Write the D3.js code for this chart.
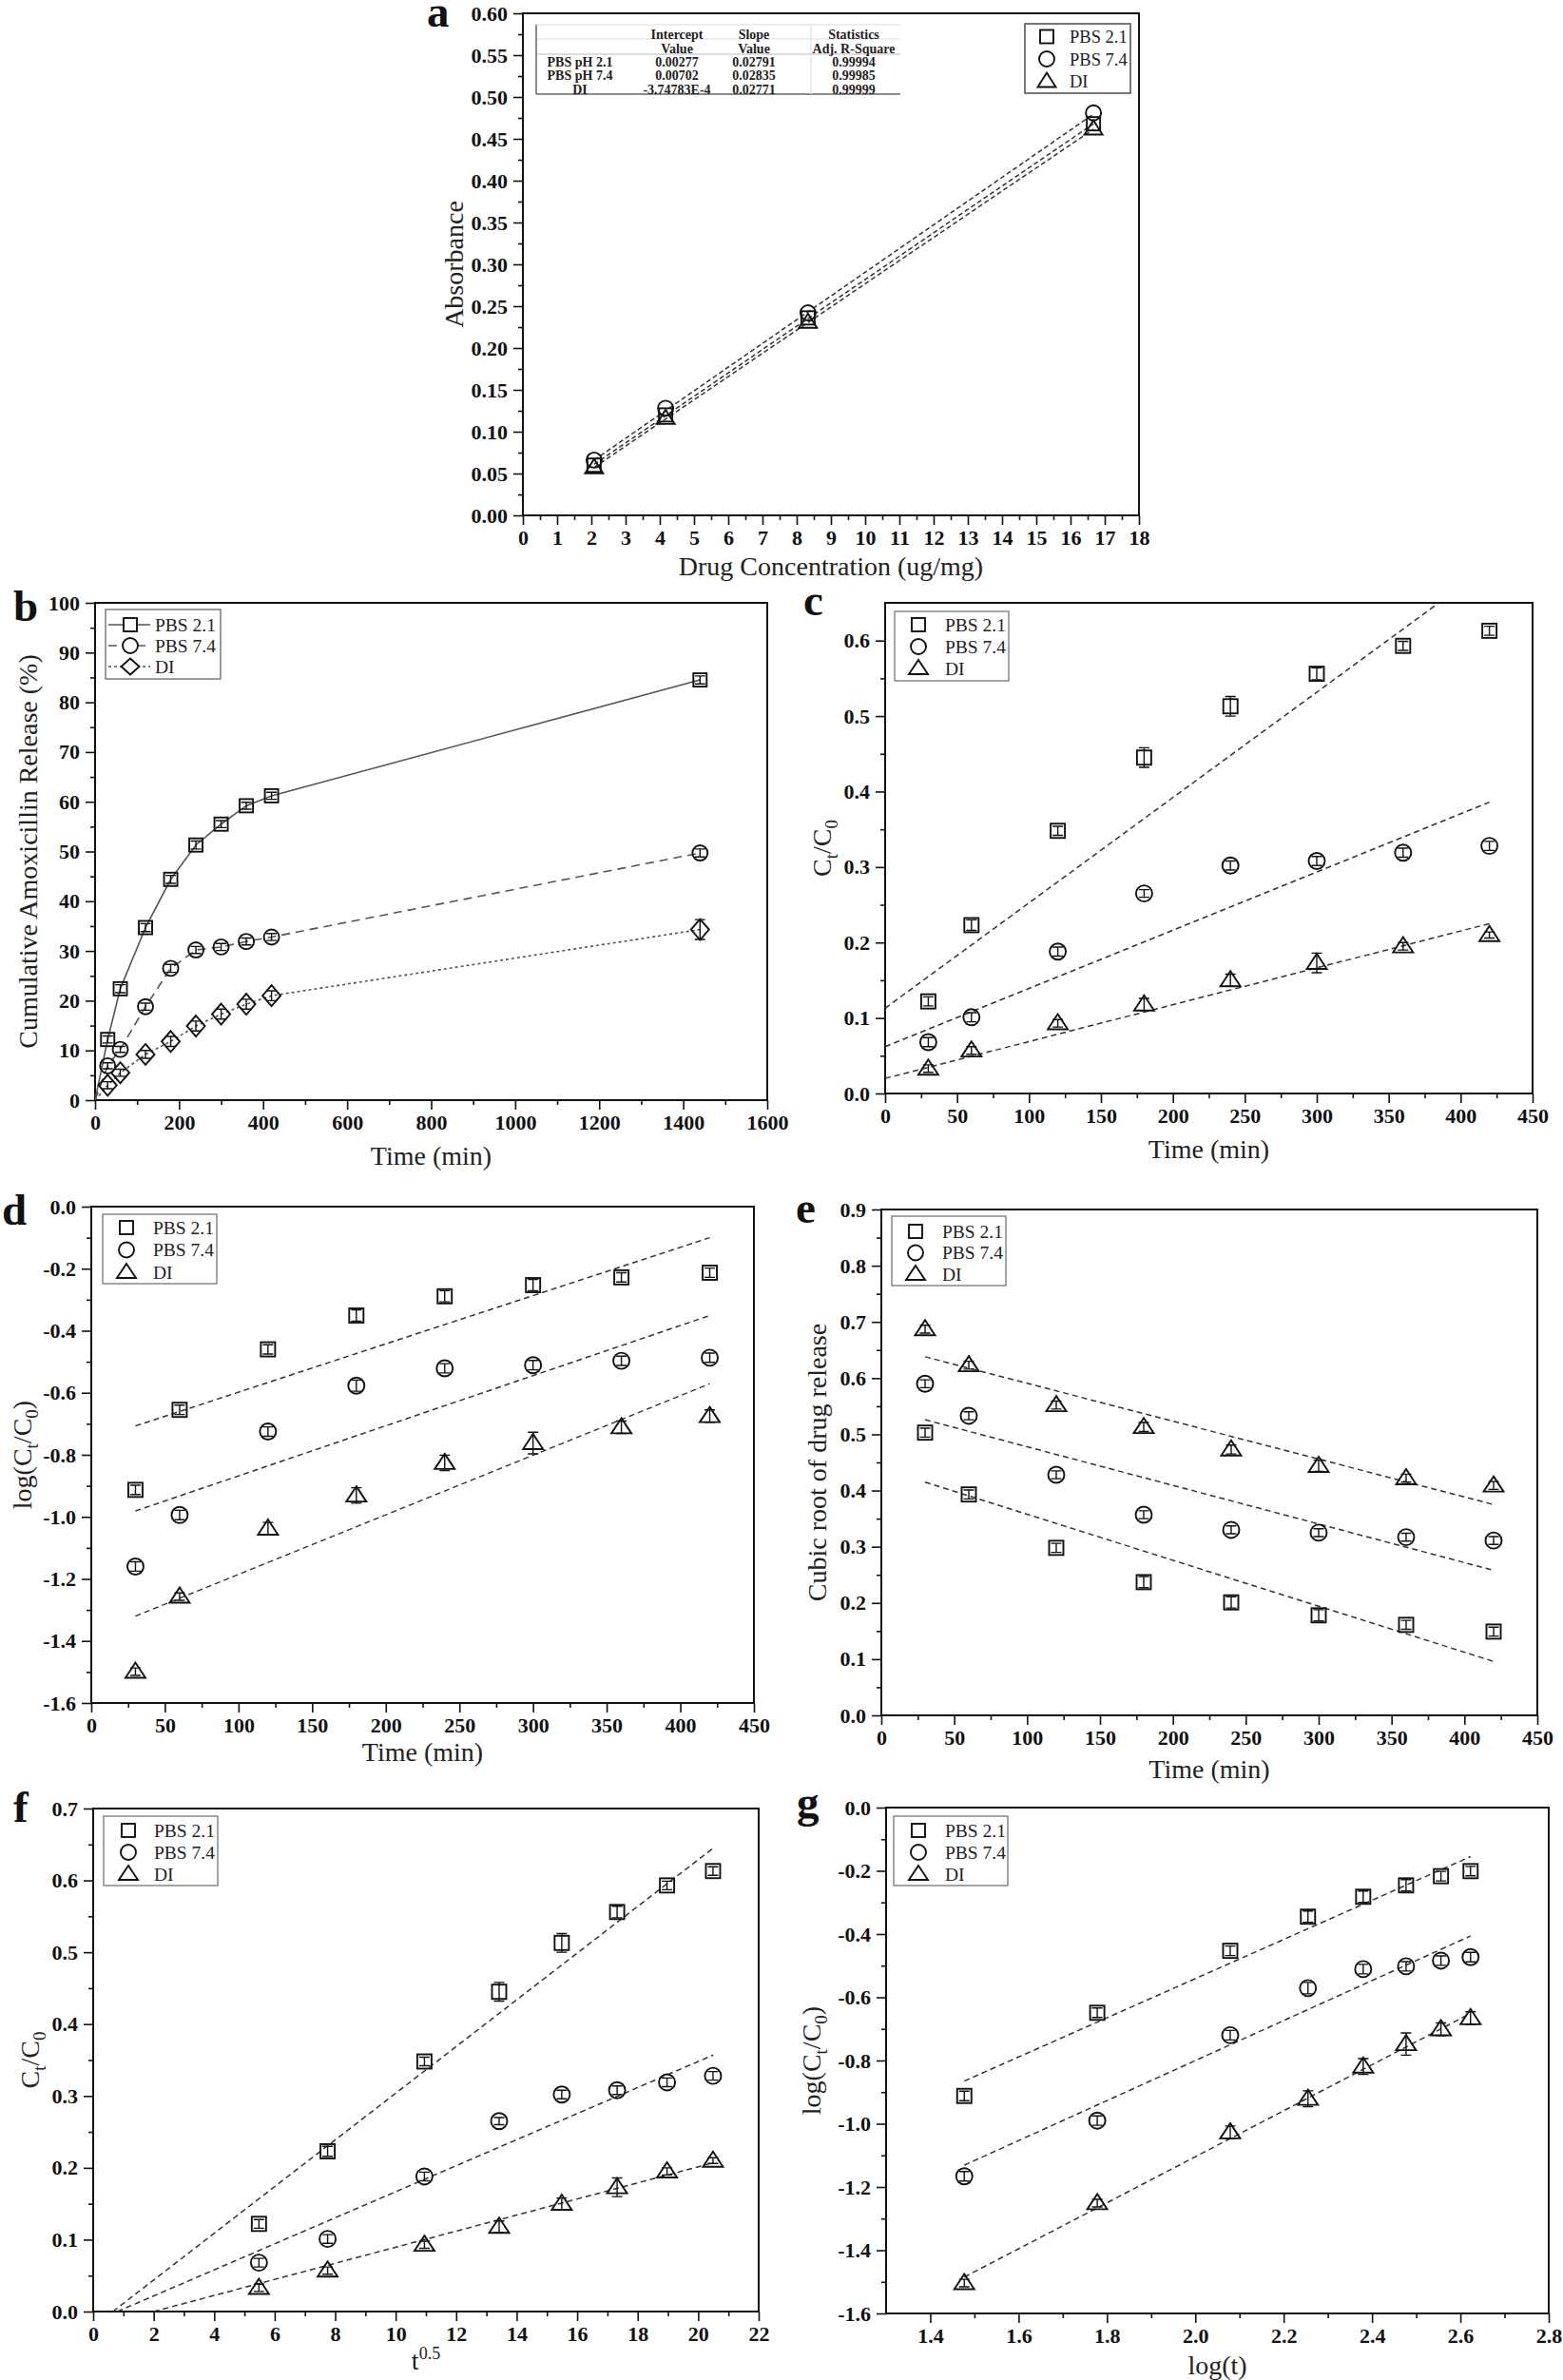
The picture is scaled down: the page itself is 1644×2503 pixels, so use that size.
<!DOCTYPE html>
<html><head><meta charset="utf-8">
<script src="https://cdn.jsdelivr.net/npm/d3@7"></script>
<style>body{margin:0;background:#fff} svg text{font-family:"Liberation Serif","Times New Roman",serif}</style>
</head><body><script>
// ---------------- DATA ----------------
const seriesNames = ["PBS 2.1", "PBS 7.4", "DI"];

// Panel a : calibration
const aConc = [2.08, 4.17, 8.33, 16.67];
const aPBS21 = [0.060, 0.120, 0.236, 0.468];
const aPBS74 = [0.066, 0.128, 0.242, 0.481];
const aDI = [0.057, 0.116, 0.231, 0.462];
const aIntercept = [0.00277, 0.00702, -3.74783e-4];
const aSlope = [0.02791, 0.02835, 0.02771];
const aRowLabels = ["PBS pH 2.1", "PBS pH 7.4", "DI"];
const aInterceptText = ["0.00277", "0.00702", "-3.74783E-4"];
const aSlopeText = ["0.02791", "0.02835", "0.02771"];
const aR2Text = ["0.99994", "0.99985", "0.99999"];
const aXTicks = [0,1,2,3,4,5,6,7,8,9,10,11,12,13,14,15,16,17,18];
const aYTicks = [0,0.05,0.10,0.15,0.20,0.25,0.30,0.35,0.40,0.45,0.50,0.55,0.60];

// Panel b : cumulative release
const bTime = [0, 30, 60, 120, 180, 240, 300, 360, 420, 1440];
const bPBS21 = [0, 12.2, 22.4, 34.7, 44.4, 51.3, 55.5, 59.2, 61.2, 84.5];
const bPBS74 = [0, 6.9, 10.2, 18.8, 26.5, 30.2, 30.8, 31.9, 32.8, 49.7];
const bDI = [0, 3.0, 5.5, 9.2, 11.8, 14.9, 17.3, 19.3, 21.0, 34.3];
const bErr21 = [0, 0.7, 0.8, 0.8, 0.8, 0.8, 0.7, 0.7, 0.7, 0.8];
const bErr74 = [0, 0.6, 0.6, 0.7, 0.8, 0.7, 0.7, 0.7, 0.7, 0.8];
const bErrDI = [0, 0.7, 0.7, 0.8, 1.0, 1.0, 1.0, 1.0, 1.0, 2.0];
const bXTicks = [0,200,400,600,800,1000,1200,1400,1600];
const bYTicks = [0,10,20,30,40,50,60,70,80,90,100];

// Panel c : zero order
const kTime = [30, 60, 120, 180, 240, 300, 360, 420];
const cPBS21 = [0.122, 0.223, 0.348, 0.445, 0.513, 0.556, 0.593, 0.613];
const cPBS74 = [0.068, 0.101, 0.188, 0.265, 0.302, 0.308, 0.319, 0.328];
const cDI = [0.033, 0.057, 0.093, 0.118, 0.150, 0.173, 0.195, 0.210];
const cErr21 = [0.006, 0.007, 0.006, 0.013, 0.013, 0.008, 0.006, 0.006];
const cErr74 = [0.006, 0.006, 0.006, 0.005, 0.006, 0.006, 0.006, 0.006];
const cErrDI = [0.005, 0.005, 0.005, 0.008, 0.008, 0.013, 0.005, 0.004];
const cFitX = [0, 420];
const cFit21 = [0.113, 0.699];
const cFit74 = [0.062, 0.386];
const cFitDI = [0.020, 0.225];
const kXTicks = [0,50,100,150,200,250,300,350,400,450];
const cYTicks = [0,0.1,0.2,0.3,0.4,0.5,0.6];

// Panel d : first order
const dPBS21 = [-0.913, -0.655, -0.460, -0.351, -0.289, -0.253, -0.228, -0.213];
const dPBS74 = [-1.160, -0.994, -0.725, -0.577, -0.521, -0.511, -0.497, -0.487];
const dDI = [-1.499, -1.257, -1.038, -0.931, -0.826, -0.762, -0.711, -0.675];
const dErr21 = [0.015, 0.015, 0.015, 0.018, 0.018, 0.018, 0.015, 0.015];
const dErr74 = [0.015, 0.015, 0.015, 0.018, 0.015, 0.015, 0.015, 0.015];
const dErrDI = [0.012, 0.012, 0.020, 0.025, 0.025, 0.035, 0.020, 0.020];
const dFitX = [30, 420];
const dFit21 = [-0.707, -0.100];
const dFit74 = [-0.981, -0.351];
const dFitDI = [-1.320, -0.571];
const dYTicks = [-1.6,-1.4,-1.2,-1.0,-0.8,-0.6,-0.4,-0.2,0.0];

// Panel e : Hixson-Crowell
const ePBS21 = [0.503, 0.393, 0.298, 0.237, 0.201, 0.178, 0.161, 0.149];
const ePBS74 = [0.590, 0.533, 0.428, 0.357, 0.330, 0.325, 0.317, 0.311];
const eDI = [0.687, 0.623, 0.552, 0.513, 0.473, 0.444, 0.422, 0.409];
const eErr21 = [0.008, 0.008, 0.008, 0.010, 0.010, 0.010, 0.008, 0.008];
const eErr74 = [0.007, 0.007, 0.007, 0.007, 0.007, 0.007, 0.007, 0.007];
const eErrDI = [0.007, 0.007, 0.007, 0.008, 0.008, 0.010, 0.007, 0.007];
const eFitX = [30, 420];
const eFit21 = [0.415, 0.096];
const eFit74 = [0.526, 0.258];
const eFitDI = [0.638, 0.375];
const eYTicks = [0,0.1,0.2,0.3,0.4,0.5,0.6,0.7,0.8,0.9];

// Panel f : Higuchi
const fSqrtT = [5.48, 7.75, 10.95, 13.42, 15.49, 17.32, 18.97, 20.49];
const fPBS21 = [0.122, 0.223, 0.348, 0.445, 0.513, 0.556, 0.593, 0.613];
const fPBS74 = [0.068, 0.101, 0.188, 0.265, 0.302, 0.308, 0.319, 0.328];
const fDI = [0.033, 0.057, 0.093, 0.118, 0.150, 0.173, 0.195, 0.210];
const fFit21 = [[0.65, 0], [20.5, 0.645]];
const fFit74 = [[0.8, 0], [20.5, 0.357]];
const fFitDI = [[2.0, 0], [20.5, 0.207]];
const fXTicks = [0,2,4,6,8,10,12,14,16,18,20,22];
const fYTicks = [0,0.1,0.2,0.3,0.4,0.5,0.6,0.7];

// Panel g : Korsmeyer-Peppas
const gLogT = [1.477, 1.778, 2.079, 2.255, 2.380, 2.477, 2.556, 2.623];
const gPBS21 = [-0.912, -0.649, -0.453, -0.345, -0.282, -0.246, -0.217, -0.201];
const gPBS74 = [-1.166, -0.990, -0.720, -0.571, -0.511, -0.502, -0.484, -0.473];
const gDI = [-1.504, -1.251, -1.027, -0.921, -0.819, -0.748, -0.701, -0.666];
const gFitX = [1.477, 2.623];
const gFit21 = [-0.865, -0.155];
const gFit74 = [-1.131, -0.406];
const gFitDI = [-1.485, -0.651];
const gXTicks = [1.4,1.6,1.8,2.0,2.2,2.4,2.6,2.8];
const gYTicks = [-1.6,-1.4,-1.2,-1.0,-0.8,-0.6,-0.4,-0.2,0.0];

// ---------------- DRAWING ----------------
const svg = d3.select("body").append("svg").attr("width", 1644).attr("height", 2503);
svg.append("rect").attr("width", 1644).attr("height", 2503).attr("fill", "#fff");

const TICK_FS = 22, TITLE_FS = 28;
const hy = f => d => f(d).replace("\u2212", "-");
function mids(t) { const m = []; for (let i = 0; i < t.length - 1; i++) m.push((t[i] + t[i + 1]) / 2); return m; }

let clipN = 0;
function panel(c) {
  const g = svg.append("g");
  const x = d3.scaleLinear().domain(c.xDomain).range([c.left, c.right]);
  const y = d3.scaleLinear().domain(c.yDomain).range([c.bottom, c.top]);
  const id = "clip" + (clipN++);
  svg.append("clipPath").attr("id", id).append("rect")
    .attr("x", c.left).attr("y", c.top).attr("width", c.right - c.left).attr("height", c.bottom - c.top);
  const styleAxis = s => {
    s.select(".domain").remove();
    s.selectAll(".tick line").attr("stroke", "#111").attr("stroke-width", 1.6);
    s.selectAll(".tick text").attr("font-family", '"Liberation Serif","Times New Roman",serif')
      .attr("font-weight", "bold").attr("font-size", TICK_FS).attr("fill", "#111");
  };
  g.append("g").attr("transform", `translate(0,${c.bottom})`)
    .call(d3.axisBottom(x).tickValues(mids(c.xTicks).filter(v => v > c.xDomain[0] && v < c.xDomain[1])).tickSize(5).tickFormat("")).call(styleAxis);
  g.append("g").attr("transform", `translate(0,${c.bottom})`)
    .call(d3.axisBottom(x).tickValues(c.xTicks).tickSize(10).tickPadding(5).tickFormat(c.xFmt)).call(styleAxis);
  g.append("g").attr("transform", `translate(${c.left},0)`)
    .call(d3.axisLeft(y).tickValues(mids(c.yTicks)).tickSize(5).tickFormat("")).call(styleAxis);
  g.append("g").attr("transform", `translate(${c.left},0)`)
    .call(d3.axisLeft(y).tickValues(c.yTicks).tickSize(10).tickPadding(6).tickFormat(c.yFmt)).call(styleAxis);
  g.append("rect").attr("x", c.left).attr("y", c.top).attr("width", c.right - c.left).attr("height", c.bottom - c.top)
    .attr("fill", "none").attr("stroke", "#111").attr("stroke-width", 2);
  // panel letter
  svg.append("text").attr("x", c.letterX).attr("y", c.letterY).attr("font-size", 47).attr("font-weight", "bold")
    .attr("fill", "#111").text(c.letter);
  // x title
  const xt = svg.append("text").attr("x", (c.left + c.right) / 2).attr("y", c.xTitleY)
    .attr("text-anchor", "middle").attr("font-size", TITLE_FS).attr("fill", "#222");
  c.xTitle(xt);
  const yt = svg.append("text").attr("transform", `translate(${c.yTitleX},${(c.top + c.bottom) / 2}) rotate(-90)`)
    .attr("text-anchor", "middle").attr("font-size", TITLE_FS).attr("fill", "#222");
  c.yTitle(yt);
  const plot = g.append("g").attr("clip-path", `url(#${id})`);
  return { g, x, y, plot, c };
}

function marker(sel, shape, cx, cy, sz) {
  const st = s => s.attr("fill", "none").attr("stroke", "#111").attr("stroke-width", 1.9);
  if (shape === "square") {
    st(sel.append("rect").attr("x", cx - sz.sq / 2).attr("y", cy - sz.sq / 2).attr("width", sz.sq).attr("height", sz.sq));
  } else if (shape === "circle") {
    st(sel.append("circle").attr("cx", cx).attr("cy", cy).attr("r", sz.r));
  } else if (shape === "triangle") {
    const w = sz.tw, h = sz.th;
    st(sel.append("path").attr("d", `M${cx},${cy - h * 0.6}L${cx + w / 2},${cy + h * 0.4}L${cx - w / 2},${cy + h * 0.4}Z`));
  } else if (shape === "diamond") {
    const w = sz.dw, h = sz.dh;
    st(sel.append("path").attr("d", `M${cx},${cy - h / 2}L${cx + w / 2},${cy}L${cx},${cy + h / 2}L${cx - w / 2},${cy}Z`));
  }
}
function ebar(sel, cx, y1, y2, cw) {
  const p = `M${cx},${y1}V${y2}M${cx - cw / 2},${y1}H${cx + cw / 2}M${cx - cw / 2},${y2}H${cx + cw / 2}`;
  sel.append("path").attr("d", p).attr("stroke", "#111").attr("stroke-width", 1.4).attr("fill", "none");
}
function scatter(P, xs, ys, errs, shape, sz) {
  const gg = P.g.append("g");
  xs.forEach((xv, i) => {
    const cx = P.x(xv), cy = P.y(ys[i]);
    if (errs) ebar(gg, cx, P.y(ys[i] + errs[i]), P.y(ys[i] - errs[i]), 11);
    marker(gg, shape, cx, cy, sz);
  });
}
function fitLine(P, pts, dash) {
  P.plot.append("path").attr("d", d3.line().x(d => P.x(d[0])).y(d => P.y(d[1]))(pts))
    .attr("fill", "none").attr("stroke", "#333").attr("stroke-width", 1.5).attr("stroke-dasharray", dash || "6,4");
}
function legend(P, bx, by, entries, sz, opts) {
  opts = opts || {};
  const w = opts.w || 120, h = opts.h || 73;
  P.g.append("rect").attr("x", bx).attr("y", by).attr("width", w).attr("height", h)
    .attr("fill", "#fff").attr("stroke", opts.stroke || "#777").attr("stroke-width", opts.sw || 1.3);
  entries.forEach((e, i) => {
    const cy = by + (opts.y0 || 15) + i * (opts.dy || 23);
    const mx = bx + (opts.mx || 25);
    if (e.dash !== undefined) {
      P.g.append("line").attr("x1", bx + 3).attr("x2", bx + 47).attr("y1", cy).attr("y2", cy)
        .attr("stroke", "#555").attr("stroke-width", 1.6).attr("stroke-dasharray", e.dash);
      const g2 = P.g.append("g");
      marker(g2, e.shape, mx, cy, sz);
      g2.selectAll("*").attr("fill", "#fff");
    } else {
      marker(P.g, e.shape, mx, cy, sz);
    }
    P.g.append("text").attr("x", bx + (opts.tx || 53)).attr("y", cy + 6.5).attr("font-size", opts.fs || 19.5)
      .attr("fill", "#222").text(e.name);
  });
}
const subTitle = (parts) => t => {
  parts.forEach(p => {
    const ts = t.append("tspan").text(p.t);
    if (p.dy) ts.attr("dy", p.dy);
    if (p.fs) ts.attr("font-size", p.fs);
  });
};
const CtC0 = subTitle([{ t: "C" }, { t: "t", dy: 7, fs: 19 }, { t: "/C", dy: -7 }, { t: "0", dy: 7, fs: 19 }]);
const logCtC0 = subTitle([{ t: "log(C" }, { t: "t", dy: 7, fs: 19 }, { t: "/C", dy: -7 }, { t: "0", dy: 7, fs: 19 }, { t: ")", dy: -7 }]);
const plain = s => t => t.text(s);

const szSmall = { sq: 15, r: 8.5, tw: 21, th: 16, dw: 19, dh: 22 };
const szA = { sq: 14, r: 8, tw: 19, th: 15 };

// ---- Panel a ----
{
  const P = panel({ left: 550, right: 1198, top: 14, bottom: 542, xDomain: [0, 18], yDomain: [0, 0.6],
    xTicks: aXTicks, yTicks: aYTicks, xFmt: d3.format("d"), yFmt: d3.format(".2f"),
    letter: "a", letterX: 449, letterY: 28, xTitleY: 605, xTitle: plain("Drug Concentration (ug/mg)"),
    yTitleX: 487, yTitle: plain("Absorbance") });
  const x0 = aConc[0], x1 = aConc[aConc.length - 1];
  aIntercept.forEach((b, i) => fitLine(P, [[x0, b + aSlope[i] * x0], [x1, b + aSlope[i] * x1]], "5,3"));
  scatter(P, aConc, aPBS21, null, "square", szA);
  scatter(P, aConc, aPBS74, null, "circle", szA);
  scatter(P, aConc, aDI, null, "triangle", szA);
  legend(P, 1078, 25, [{ name: seriesNames[0], shape: "square" }, { name: seriesNames[1], shape: "circle" }, { name: seriesNames[2], shape: "triangle" }],
    szA, { w: 111, h: 73, y0: 13.5, dy: 23.5, mx: 23, tx: 47, fs: 18.5, stroke: "#555", sw: 1.6 });
  // table
  const T = P.g.append("g").attr("font-weight", "bold").attr("font-size", 14).attr("fill", "#222");
  const tl = 564, tr = 947;
  T.append("line").attr("x1", tl).attr("x2", tr).attr("y1", 26).attr("y2", 26).attr("stroke", "#ddd");
  T.append("line").attr("x1", tl).attr("x2", tr).attr("y1", 41).attr("y2", 41).attr("stroke", "#ddd");
  T.append("line").attr("x1", tl).attr("x2", tr).attr("y1", 57).attr("y2", 57).attr("stroke", "#bbb");
  T.append("line").attr("x1", tl).attr("x2", tr).attr("y1", 99).attr("y2", 99).attr("stroke", "#666").attr("stroke-width", 1.5);
  T.append("line").attr("x1", tl).attr("x2", tl).attr("y1", 26).attr("y2", 99).attr("stroke", "#666").attr("stroke-width", 1.5);
  T.append("line").attr("x1", 853).attr("x2", 853).attr("y1", 26).attr("y2", 99).attr("stroke", "#ddd");
  const cols = [610, 712, 793, 898];
  const hdr1 = ["", "Intercept", "Slope", "Statistics"], hdr2 = ["", "Value", "Value", "Adj. R-Square"];
  hdr1.forEach((s, i) => T.append("text").attr("x", cols[i]).attr("y", 41).attr("text-anchor", "middle").text(s));
  hdr2.forEach((s, i) => T.append("text").attr("x", cols[i]).attr("y", 56).attr("text-anchor", "middle").text(s));
  aRowLabels.forEach((s, r) => {
    const yy = 70 + r * 14.3;
    [s, aInterceptText[r], aSlopeText[r], aR2Text[r]].forEach((v, i) =>
      T.append("text").attr("x", cols[i]).attr("y", yy).attr("text-anchor", "middle").text(v));
  });
}

// ---- Panel b ----
{
  const P = panel({ left: 100, right: 807, top: 634, bottom: 1157, xDomain: [0, 1600], yDomain: [0, 100],
    xTicks: bXTicks, yTicks: bYTicks, xFmt: d3.format("d"), yFmt: d3.format("d"),
    letter: "b", letterX: 14, letterY: 653, xTitleY: 1225, xTitle: plain("Time (min)"),
    yTitleX: 39, yTitle: plain("Cumulative Amoxicillin Release (%)") });
  const series = [[bPBS21, bErr21, "square", "none"], [bPBS74, bErr74, "circle", "9,6"], [bDI, bErrDI, "diamond", "3,3"]];
  series.forEach(([ys, es, shp, dash]) => {
    P.plot.append("path").attr("d", d3.line().x((d, i) => P.x(bTime[i])).y(d => P.y(d))(ys))
      .attr("fill", "none").attr("stroke", "#555").attr("stroke-width", 1.6)
      .attr("stroke-dasharray", dash === "none" ? null : dash);
  });
  series.forEach(([ys, es, shp]) => scatter(P, bTime.slice(1), ys.slice(1), es.slice(1), shp, { sq: 14, r: 8, dw: 19, dh: 22 }));
  legend(P, 111, 641, [{ name: seriesNames[0], shape: "square", dash: null }, { name: seriesNames[1], shape: "circle", dash: "9,6" }, { name: seriesNames[2], shape: "diamond", dash: "3,3" }],
    { sq: 14, r: 8, dw: 19, dh: 17 }, { w: 121, h: 73, y0: 16, dy: 22, mx: 26, tx: 52, fs: 19.5, stroke: "#666" });
}

const legEntries = [{ name: seriesNames[0], shape: "square" }, { name: seriesNames[1], shape: "circle" }, { name: seriesNames[2], shape: "triangle" }];
const szLeg = { sq: 14, r: 8, tw: 20, th: 15 };

// ---- Panel c ----
{
  const P = panel({ left: 931, right: 1612, top: 634, bottom: 1150, xDomain: [0, 450], yDomain: [0, 0.65],
    xTicks: kXTicks, yTicks: cYTicks, xFmt: d3.format("d"), yFmt: d3.format(".1f"),
    letter: "c", letterX: 845, letterY: 647, xTitleY: 1218, xTitle: plain("Time (min)"),
    yTitleX: 874, yTitle: CtC0 });
  [cFit21, cFit74, cFitDI].forEach(f => fitLine(P, [[cFitX[0], f[0]], [cFitX[1], f[1]]]));
  scatter(P, kTime, cPBS21, cErr21, "square", szSmall);
  scatter(P, kTime, cPBS74, cErr74, "circle", szSmall);
  scatter(P, kTime, cDI, cErrDI, "triangle", szSmall);
  legend(P, 941, 643, legEntries, szLeg, { y0: 14, dy: 23, mx: 25, tx: 53 });
}

// ---- Panel d ----
{
  const P = panel({ left: 96, right: 793, top: 1269, bottom: 1791, xDomain: [0, 450], yDomain: [-1.6, 0],
    xTicks: kXTicks, yTicks: dYTicks, xFmt: d3.format("d"), yFmt: hy(d3.format(".1f")),
    letter: "d", letterX: 2, letterY: 1288, xTitleY: 1852, xTitle: plain("Time (min)"),
    yTitleX: 33, yTitle: logCtC0 });
  [dFit21, dFit74, dFitDI].forEach(f => fitLine(P, [[dFitX[0], f[0]], [dFitX[1], f[1]]]));
  scatter(P, kTime, dPBS21, dErr21, "square", szSmall);
  scatter(P, kTime, dPBS74, dErr74, "circle", szSmall);
  scatter(P, kTime, dDI, dErrDI, "triangle", szSmall);
  legend(P, 108, 1277, legEntries, szLeg, { y0: 14, dy: 23.5, mx: 25, tx: 53 });
}

// ---- Panel e ----
{
  const P = panel({ left: 927, right: 1617, top: 1272, bottom: 1804, xDomain: [0, 450], yDomain: [0, 0.9],
    xTicks: kXTicks, yTicks: eYTicks, xFmt: d3.format("d"), yFmt: d3.format(".1f"),
    letter: "e", letterX: 837, letterY: 1286, xTitleY: 1870, xTitle: plain("Time (min)"),
    yTitleX: 869, yTitle: plain("Cubic root of drug release") });
  [eFit21, eFit74, eFitDI].forEach(f => fitLine(P, [[eFitX[0], f[0]], [eFitX[1], f[1]]]));
  scatter(P, kTime, ePBS21, eErr21, "square", szSmall);
  scatter(P, kTime, ePBS74, eErr74, "circle", szSmall);
  scatter(P, kTime, eDI, eErrDI, "triangle", szSmall);
  legend(P, 938, 1279, legEntries, szLeg, { y0: 16, dy: 22.5, mx: 25, tx: 53 });
}

// ---- Panel f ----
{
  const P = panel({ left: 98, right: 798, top: 1902, bottom: 2431, xDomain: [0, 22], yDomain: [0, 0.7],
    xTicks: fXTicks, yTicks: fYTicks, xFmt: d3.format("d"), yFmt: d3.format(".1f"),
    letter: "f", letterX: 14, letterY: 1916, xTitleY: 2492,
    xTitle: subTitle([{ t: "t" }, { t: "0.5", dy: -11, fs: 18 }]),
    yTitleX: 41, yTitle: CtC0 });
  [fFit21, fFit74, fFitDI].forEach(f => fitLine(P, f));
  scatter(P, fSqrtT, fPBS21, cErr21, "square", szSmall);
  scatter(P, fSqrtT, fPBS74, cErr74, "circle", szSmall);
  scatter(P, fSqrtT, fDI, cErrDI, "triangle", szSmall);
  legend(P, 109, 1910, legEntries, szLeg, { y0: 15, dy: 23, mx: 26, tx: 53 });
}

// ---- Panel g ----
{
  const P = panel({ left: 932, right: 1629, top: 1901, bottom: 2433, xDomain: [1.3, 2.8], yDomain: [-1.6, 0],
    xTicks: gXTicks, yTicks: gYTicks, xFmt: d3.format(".1f"), yFmt: hy(d3.format(".1f")),
    letter: "g", letterX: 838, letterY: 1911, xTitleY: 2497, xTitle: plain("log(t)"),
    yTitleX: 863, yTitle: logCtC0 });
  [gFit21, gFit74, gFitDI].forEach(f => fitLine(P, [[gFitX[0], f[0]], [gFitX[1], f[1]]]));
  scatter(P, gLogT, gPBS21, dErr21, "square", szSmall);
  scatter(P, gLogT, gPBS74, dErr74, "circle", szSmall);
  scatter(P, gLogT, gDI, dErrDI, "triangle", szSmall);
  legend(P, 940, 1910, legEntries, szLeg, { y0: 15, dy: 23, mx: 26, tx: 54 });
}
</script></body></html>
